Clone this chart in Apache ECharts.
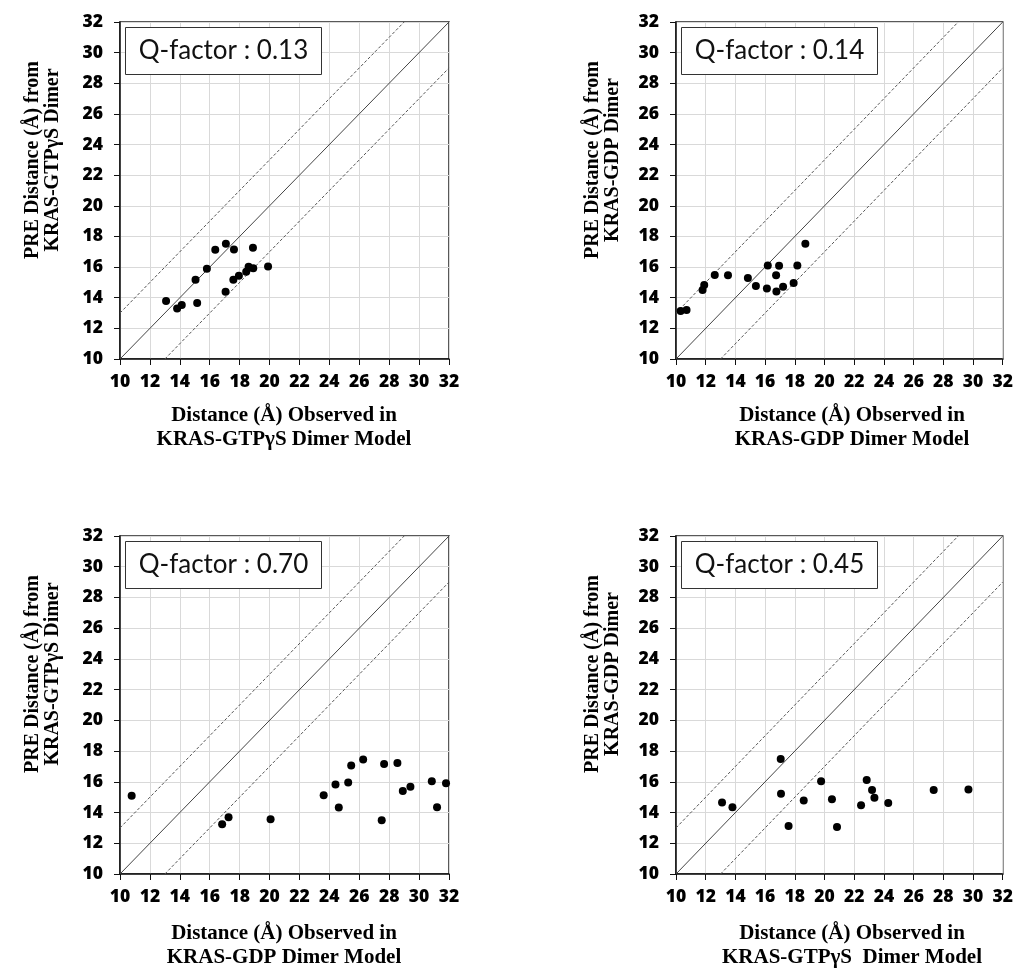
<!DOCTYPE html>
<html style="height: 100%">
<head>
    <meta charset="utf-8">
    <script src="https://cdn.jsdelivr.net/npm/echarts@6/dist/echarts.min.js"></script>
</head>
<body style="height: 100%; margin: 0; background: #fff">
    <div id="main" style="width:1016px; height:970px;"></div>
    <script type="text/javascript">
    // axis range and ticks shared by all four panels
    var axisMin = 10;
    var axisMax = 32;
    var axisStep = 2;
    // reference lines: y = x + offset
    var refOffsets = [0, 3, -3];

    var qFactors = ['Q-factor : 0.13', 'Q-factor : 0.14', 'Q-factor : 0.70', 'Q-factor : 0.45'];
    var yTitles = [
        'PRE Distance (Å) from\nKRAS-GTPγS Dimer',
        'PRE Distance (Å) from\nKRAS-GDP Dimer',
        'PRE Distance (Å) from\nKRAS-GTPγS Dimer',
        'PRE Distance (Å) from\nKRAS-GDP Dimer'
    ];
    var xTitles = [
        'Distance (Å) Observed in\nKRAS-GTPγS Dimer Model',
        'Distance (Å) Observed in\nKRAS-GDP Dimer Model',
        'Distance (Å) Observed in\nKRAS-GDP Dimer Model',
        'Distance (Å) Observed in\nKRAS-GTPγS  Dimer Model'
    ];

    // [observed in model, PRE distance]
    var gtpVsGtp = [
        [13.08, 13.78], [13.82, 13.30], [14.13, 13.52], [15.16, 13.65], [15.05, 15.17],
        [15.81, 15.89], [16.37, 17.13], [17.08, 17.52], [17.06, 14.39], [17.62, 17.15],
        [17.58, 15.17], [17.95, 15.43], [18.44, 15.70], [18.60, 16.02], [18.89, 17.26],
        [18.91, 15.93], [19.90, 16.04]
    ];
    var gdpVsGdp = [
        [10.31, 13.13], [10.71, 13.20], [11.79, 14.50], [11.90, 14.83], [12.61, 15.48],
        [13.50, 15.46], [14.84, 15.28], [15.38, 14.76], [16.12, 14.61], [16.18, 16.11],
        [16.74, 15.46], [16.76, 14.41], [16.94, 16.09], [17.21, 14.72], [17.92, 14.96],
        [18.17, 16.11], [18.71, 17.52]
    ];
    var gdpModelVsGtp = [
        [10.78, 15.09], [16.83, 13.24], [17.26, 13.70], [20.07, 13.57], [23.62, 15.13],
        [24.41, 15.83], [24.63, 14.33], [25.26, 15.96], [25.46, 17.07], [26.26, 17.46],
        [27.50, 13.50], [27.66, 17.16], [28.55, 17.22], [28.91, 15.41], [29.42, 15.68],
        [30.85, 16.03], [31.20, 14.35], [31.80, 15.90]
    ];
    var gtpModelVsGdp = [
        [13.10, 14.65], [13.80, 14.35], [17.05, 17.48], [17.07, 15.22], [17.58, 13.13],
        [18.60, 14.78], [19.77, 16.04], [20.50, 14.87], [20.84, 13.06], [22.46, 14.47],
        [22.84, 16.12], [23.20, 15.46], [23.36, 14.96], [24.29, 14.62], [27.35, 15.46],
        [29.69, 15.50]
    ];
    var panelData = [gtpVsGtp, gdpVsGdp, gdpModelVsGtp, gtpModelVsGdp];

    var grids = [
        { left: 120, top: 22, width: 329, height: 337 },
        { left: 676, top: 22, width: 329, height: 337 },
        { left: 120, top: 536, width: 329, height: 338 },
        { left: 676, top: 536, width: 329, height: 338 }
    ];
    var tickFont = '"Open Sans"';
    var titleFont = '"Liberation Serif", "Times New Roman", serif';

    function refLine(off) {
        var x0 = Math.max(axisMin, axisMin - off);
        var x1 = Math.min(axisMax, axisMax - off);
        return [[x0, x0 + off], [x1, x1 + off]];
    }

    var xAxes = [], yAxes = [], series = [], graphics = [];
    grids.forEach(function (g, i) {
        g.show = true;
        g.borderColor = '#222';
        g.borderWidth = 1.5;
        var common = {
            gridIndex: i,
            type: 'value',
            min: axisMin,
            max: axisMax,
            interval: axisStep,
            axisLine: { show: true, onZero: false, lineStyle: { color: '#111', width: 1.5 } },
            axisTick: { show: true, inside: false, length: 6, lineStyle: { color: '#111', width: 1 } },
            splitLine: { show: true, lineStyle: { color: '#d9d9d9', width: 1 } },
            axisLabel: { color: '#000', fontFamily: tickFont, fontWeight: 800, fontSize: 17.5 }
        };
        xAxes.push(echarts.util.merge({ axisLabel: { margin: 14 } }, common, true));
        yAxes.push(echarts.util.merge({ axisLabel: { margin: 17 } }, common, true));

        refOffsets.forEach(function (off) {
            series.push({
                type: 'line',
                xAxisIndex: i,
                yAxisIndex: i,
                data: refLine(off),
                symbol: 'none',
                silent: true,
                lineStyle: off === 0
                    ? { color: '#444', width: 1 }
                    : { color: '#555', width: 1, type: [3, 2] }
            });
        });
        series.push({
            type: 'scatter',
            xAxisIndex: i,
            yAxisIndex: i,
            data: panelData[i],
            symbolSize: 8,
            itemStyle: { color: '#000', opacity: 1 },
            z: 5
        });

        var right = i % 2 === 1;
        var bottom = i >= 2;
        var dy = bottom ? 514 : 0;
        // Q-factor box
        graphics.push({
            type: 'rect',
            shape: { x: (right ? 681.5 : 125.5), y: 27.5 + dy, width: 196, height: 47 },
            style: { fill: '#fff', stroke: '#333', lineWidth: 1 },
            z: 10
        });
        graphics.push({
            type: 'text',
            x: (right ? 779.5 : 223.5),
            y: 51 + dy,
            style: {
                text: qFactors[i], fill: '#111', font: '26px Lato',
                align: 'center', verticalAlign: 'middle'
            },
            z: 11
        });
        // y title
        graphics.push({
            type: 'text',
            x: right ? 603 : 43,
            y: 160 + dy,
            rotation: Math.PI / 2,
            style: {
                text: yTitles[i], fill: '#000', font: 'bold 20px ' + titleFont,
                lineHeight: 20, align: 'center', verticalAlign: 'middle'
            }
        });
        // x title
        graphics.push({
            type: 'text',
            x: right ? 852 : 284,
            y: (bottom ? 946 : 428),
            style: {
                text: xTitles[i], fill: '#000', font: 'bold 21px ' + titleFont,
                lineHeight: 24, align: 'center', verticalAlign: 'middle'
            }
        });
    });

    var myChart = echarts.init(document.getElementById('main'));
    var option = {
        animation: false,
        backgroundColor: '#fff',
        grid: grids,
        xAxis: xAxes,
        yAxis: yAxes,
        series: series,
        graphic: graphics
    };
    myChart.setOption(option);
    </script>
</body>
</html>
